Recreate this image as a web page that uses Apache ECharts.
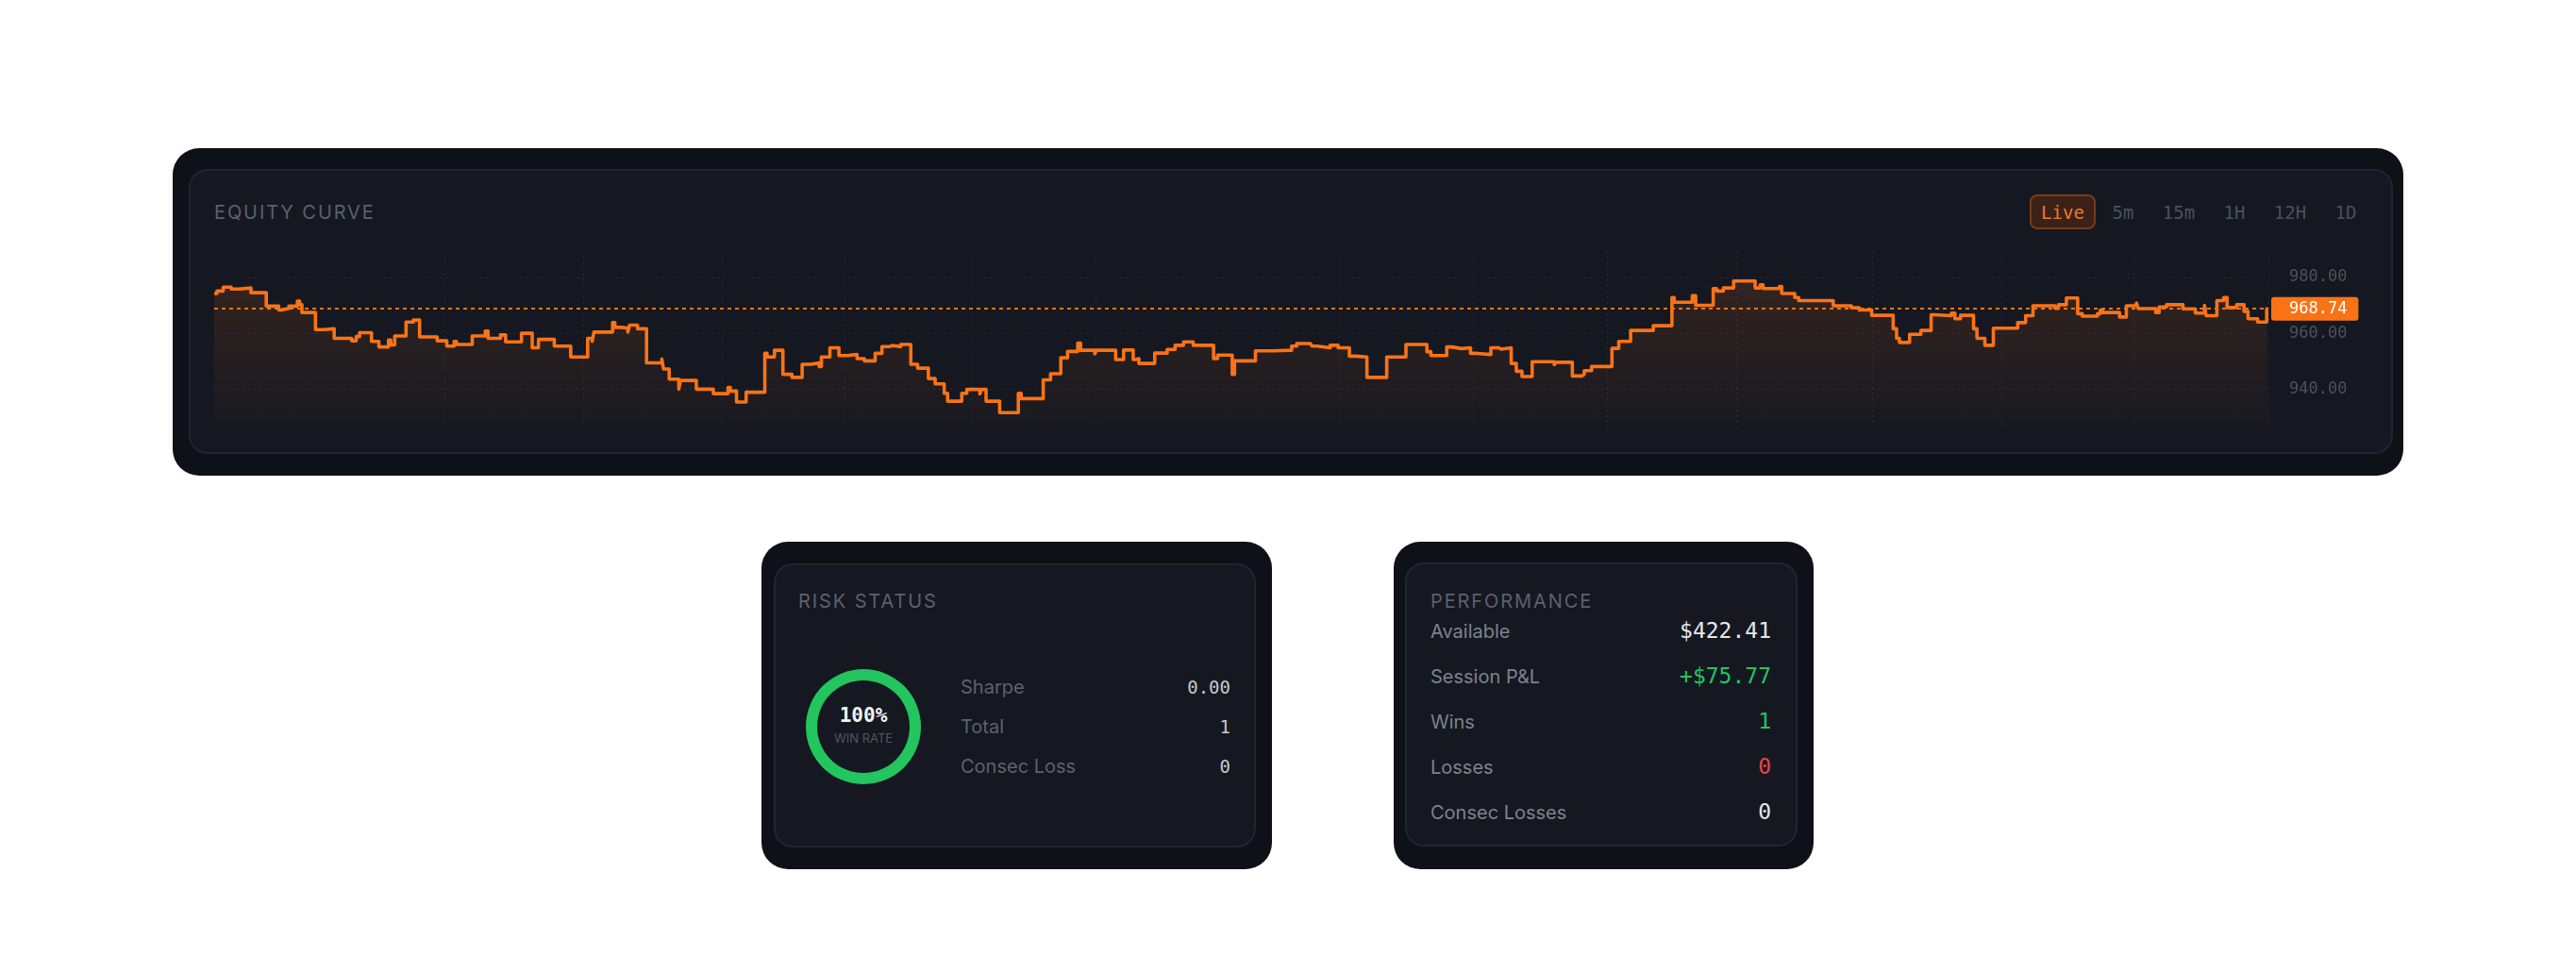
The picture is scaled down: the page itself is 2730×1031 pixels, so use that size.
<!DOCTYPE html>
<html>
<head>
<meta charset="utf-8">
<title>Equity Curve</title>
<script src="https://cdn.jsdelivr.net/npm/echarts@6/dist/echarts.min.js"></script>
<style>
  html, body { margin: 0; padding: 0; background: #ffffff; }
  body { width: 2730px; height: 1031px; position: relative; overflow: hidden; font-family: Inter, "Noto Sans", sans-serif; }
  .outer { position: absolute; background: #0e1117; border-radius: 28px; }
  .inner { position: absolute; background: #151821; border: 2px solid #21252e; border-radius: 20px; box-sizing: border-box; }
  .t { position: absolute; line-height: 1; white-space: nowrap; transform: translateY(-50%); }
  .cap { font-size: 20px; letter-spacing: 1.9px; color: #5b616d; }
  .mono { font-family: "DejaVu Sans Mono", monospace; }
  .btn { font-size: 19px; color: #4a505b; transform: translate(-50%, -50%); }
  .live { position: absolute; left: 2151px; top: 206px; width: 70px; height: 37px; box-sizing: border-box;
          border: 2px solid #7a3a18; background: #3b2117; border-radius: 8px; }
  .row { position: absolute; display: flex; justify-content: space-between; align-items: center; line-height: 1; transform: translateY(-50%); }
  #chart { position: absolute; left: 0; top: 0; width: 2730px; height: 1031px; z-index: 2; pointer-events: none; }
</style>
</head>
<body>

<div class="outer" style="left:183px;top:157px;width:2364px;height:347px;"></div>
<div class="inner" style="left:200px;top:179px;width:2336px;height:302px;"></div>
<div class="t cap" style="left:227px;top:225px;">EQUITY CURVE</div>
<div class="live"></div>
<div id="ranges"></div>

<div class="outer" style="left:807px;top:574px;width:541px;height:347px;"></div>
<div class="inner" style="left:820px;top:597px;width:511px;height:301px;"></div>
<div class="t cap" style="left:846px;top:637px;">RISK STATUS</div>
<div class="t mono" id="winrate" style="left:915px;top:758px;font-size:21px;font-weight:bold;color:#f1f3f5;transform:translate(-50%,-50%);"></div>
<div class="t" style="left:915px;top:782px;font-size:13px;color:#50565f;transform:translate(-50%,-50%);">WIN RATE</div>
<div id="risk"></div>

<div class="outer" style="left:1477px;top:574px;width:445px;height:347px;"></div>
<div class="inner" style="left:1489px;top:596px;width:416px;height:301px;"></div>
<div class="t cap" style="left:1516px;top:637px;">PERFORMANCE</div>
<div id="perf"></div>

<div id="chart"></div>

<script>
// equity curve: minutes into the session -> account equity
var sessionMinutes = 363;
var minutes = [0, 0.5, 1.6, 3.0, 4.4, 6.5, 9.2, 11.4, 11.9, 13.2,
    14.7, 15.1, 15.5, 17.9, 19.4, 21.2, 24.3, 25.1, 25.7, 27.8,
    29.1, 30.8, 31.2, 31.9, 33.9, 35.2, 36.3, 39.4, 41.1, 42.4,
    42.8, 45.6, 47.9, 48.4, 50.6, 51.5, 54.3, 56.2, 57.3, 60.1,
    63.0, 66.0, 66.8, 67.1, 70.4, 70.8, 72.0, 73.1, 73.4, 74.8,
    76.4, 79.1, 79.4, 80.4, 82.1, 82.4, 85.2, 88.2, 90.8, 91.2,
    92.3, 94.0, 97.3, 97.7, 99.0, 100.5, 102.1, 103.9, 105.5, 106.9,
    107.3, 108.8, 110.4, 111.9, 113.6, 114.9, 116.8, 118.0, 119.3, 119.8,
    121.3, 123.1, 124.3, 126.2, 127.4, 129.0, 129.6, 132.1, 133.0, 135.3,
    135.6, 136.4, 138.8, 142.1, 142.6, 146.5, 147.8, 149.6, 150.8, 152.6,
    153.1, 155.6, 155.9, 159.3, 160.7, 162.4, 162.8, 163.4, 166.2, 168.4,
    169.8, 171.3, 173.0, 176.6, 177.3, 179.9, 180.3, 184.0, 187.1, 187.4,
    190.4, 191.3, 193.7, 194.0, 194.9, 197.2, 198.6, 200.6, 201.7, 203.7,
    207.2, 210.6, 214.3, 215.0, 217.8, 218.7, 220.4, 222.0, 223.2, 225.6,
    227.0, 227.4, 229.2, 230.1, 231.1, 232.9, 236.8, 237.1, 240.0, 241.7,
    242.1, 243.4, 247.0, 248.2, 250.3, 254.3, 257.6, 258.0, 261.2, 261.8,
    264.9, 265.5, 266.7, 268.5, 272.3, 273.2, 273.7, 276.6, 277.0, 279.3,
    280.0, 286.1, 289.3, 290.7, 292.9, 296.7, 297.3, 297.8, 299.6, 301.6,
    303.4, 304.0, 307.0, 307.6, 308.6, 310.9, 311.5, 312.9, 314.4, 318.7,
    320.1, 321.4, 325.3, 325.9, 327.3, 329.3, 330.1, 332.8, 333.3, 333.7,
    336.7, 337.9, 339.7, 340.0, 343.1, 343.7, 345.0, 347.9, 350.1, 351.7,
    352.0, 353.9, 355.1, 355.7, 357.4, 358.7, 359.4, 361.1, 362.7, 363];
var equity = [974.2, 975.1, 976.5, 975.8, 976.2, 974.5, 969.7, 968.3, 968.9, 969.7,
    971.5, 970.2, 967.4, 961.3, 961.6, 958.2, 957.3, 958.8, 960.2, 957.1,
    955.1, 957.6, 955.8, 959.0, 964.0, 964.7, 958.7, 957.3, 955.4, 957.1,
    956.0, 959.0, 960.8, 958.2, 959.4, 956.9, 960.0, 954.8, 957.8, 955.4,
    951.5, 958.2, 957.1, 960.4, 963.8, 962.1, 961.8, 960.4, 962.9, 961.6,
    949.4, 950.8, 947.2, 943.6, 940.0, 943.1, 940.0, 938.4, 940.6, 939.3,
    935.4, 938.9, 952.8, 951.5, 953.9, 945.3, 944.2, 948.9, 949.4, 948.1,
    951.5, 954.8, 952.0, 952.4, 950.9, 950.1, 952.8, 955.2, 955.6, 955.2,
    956.0, 948.9, 947.5, 943.8, 941.9, 938.5, 935.7, 938.5, 939.9, 938.3,
    939.9, 935.7, 931.6, 938.5, 936.6, 943.3, 945.5, 951.2, 953.5, 956.5,
    953.9, 952.6, 953.9, 950.6, 954.0, 950.6, 950.9, 949.2, 952.9, 954.2,
    955.7, 956.9, 955.7, 950.9, 952.2, 945.3, 950.1, 953.7, 954.3, 953.9,
    955.4, 956.3, 956.9, 955.4, 954.8, 955.7, 954.8, 951.8, 951.5, 944.2,
    951.5, 956.0, 953.4, 952.0, 955.1, 954.5, 954.8, 952.8, 952.4, 954.8,
    954.3, 954.8, 949.2, 946.4, 944.5, 949.8, 948.7, 949.6, 944.7, 945.3,
    946.6, 948.1, 954.6, 957.1, 961.0, 962.7, 972.8, 971.1, 973.4, 970.0,
    976.0, 975.1, 976.2, 978.7, 976.2, 977.3, 976.0, 976.7, 974.2, 972.8,
    971.7, 969.8, 969.1, 968.3, 966.4, 961.6, 958.2, 956.7, 959.6, 961.0,
    966.6, 966.3, 967.2, 965.2, 966.4, 961.6, 958.2, 955.7, 961.8, 963.8,
    966.3, 969.8, 968.9, 970.2, 972.6, 967.0, 966.1, 967.0, 968.3, 967.4,
    965.8, 969.8, 970.8, 968.8, 967.4, 969.4, 970.2, 968.7, 967.2, 970.0,
    966.3, 971.7, 972.8, 969.2, 970.2, 967.8, 965.2, 964.0, 968.74, 968.74];
var lastEquity = 968.74;
var gridMinutes = [15.0, 40.7, 65.3, 89.8, 111.5, 133.7, 155.8, 198.8, 222.5, 246.2, 269.0, 293.0, 315.8, 339.2, 363];
var yMin = 925.6;
var yMax = 989.4;

var ranges = ['Live', '5m', '15m', '1H', '12H', '1D'];
var rangeX = [2186, 2250, 2309, 2368, 2427, 2486];

var wins = 1;
var losses = 0;
var riskLabels = ['Sharpe', 'Total', 'Consec Loss'];
var riskValues = ['0.00', '1', '0'];
var perfLabels = ['Available', 'Session P&L', 'Wins', 'Losses', 'Consec Losses'];
var perfValues = ['$422.41', '+$75.77', '1', '0', '0'];
var perfColors = ['#e5e7eb', '#22c55e', '#22c55e', '#ef4444', '#e5e7eb'];

// header buttons
var html = '';
for (var i = 0; i < ranges.length; i++) {
    var c = i == 0 ? '#ec7a2c' : '#4a505b';
    html += '<div class="t mono btn" style="left:' + rangeX[i] + 'px;top:225px;color:' + c + ';">' + ranges[i] + '</div>';
}
document.getElementById('ranges').innerHTML = html;

document.getElementById('winrate').innerText = Math.round(wins / (wins + losses) * 100) + '%';

html = '';
for (var i = 0; i < riskLabels.length; i++) {
    html += '<div class="row" style="left:1018px;width:286px;top:' + (728 + i * 42) + 'px;">' +
        '<span style="font-size:20px;color:#5c626e;">' + riskLabels[i] + '</span>' +
        '<span class="mono" style="font-size:19px;color:#c5c9d0;">' + riskValues[i] + '</span></div>';
}
document.getElementById('risk').innerHTML = html;

html = '';
for (var i = 0; i < perfLabels.length; i++) {
    html += '<div class="row" style="left:1516px;width:361px;top:' + (668 + i * 48) + 'px;">' +
        '<span style="font-size:20px;color:#7d838e;">' + perfLabels[i].replace('&', '&amp;') + '</span>' +
        '<span class="mono" style="font-size:23px;color:' + perfColors[i] + ';">' + perfValues[i] + '</span></div>';
}
document.getElementById('perf').innerHTML = html;

var points = [];
for (var i = 0; i < minutes.length; i++) {
    points.push([minutes[i], equity[i]]);
}

var myChart = echarts.init(document.getElementById('chart'));
myChart.setOption({
    animation: false,
    grid: { left: 227, right: 326, top: 266, bottom: 576 },
    xAxis: {
        type: 'value',
        min: 0,
        max: sessionMinutes,
        axisLine: { show: false },
        axisLabel: { show: false },
        axisTick: { show: false, customValues: gridMinutes },
        splitLine: { show: true, showMinLine: false, lineStyle: { color: '#272b35', type: [2, 4], width: 1 } }
    },
    yAxis: {
        type: 'value',
        position: 'right',
        min: yMin,
        max: yMax,
        splitNumber: 3,
        axisLine: { show: false },
        axisTick: { show: false },
        axisLabel: {
            showMinLabel: false,
            showMaxLabel: false,
            margin: 22,
            color: '#4b515c',
            fontFamily: 'DejaVu Sans Mono',
            fontSize: 17,
            formatter: function (v) { return v.toFixed(2); }
        },
        splitLine: { showMinLine: false, showMaxLine: false, lineStyle: { color: '#272b35', type: [2, 4], width: 1 } }
    },
    series: [{
        type: 'line',
        data: points,
        step: 'end',
        showSymbol: false,
        silent: true,
        lineStyle: { color: '#f97316', width: 3.6, join: 'round' },
        areaStyle: {
            color: new echarts.graphic.LinearGradient(0, 0, 0, 1, [
                { offset: 0, color: 'rgba(249,115,22,0.19)' },
                { offset: 1, color: 'rgba(249,115,22,0.02)' }
            ])
        },
        markLine: {
            silent: true,
            symbol: 'none',
            data: [{ yAxis: lastEquity }],
            lineStyle: { color: '#f97316', type: [4, 4], width: 2 },
            label: {
                position: 'end',
                distance: 3,
                formatter: function (p) { return p.value.toFixed(2); },
                color: '#ffffff',
                backgroundColor: '#f97316',
                borderRadius: 3,
                padding: [4, 12, 4, 19],
                lineHeight: 17,
                fontFamily: 'DejaVu Sans Mono',
                fontSize: 17
            }
        }
    }, {
        // win rate ring
        type: 'pie',
        center: [915, 770],
        radius: [49, 61],
        silent: true,
        label: { show: false },
        data: [
            { name: 'Wins', value: wins, itemStyle: { color: '#22c55e' } },
            { name: 'Losses', value: losses, itemStyle: { color: '#ef4444' } }
        ]
    }]
});
</script>
</body>
</html>
